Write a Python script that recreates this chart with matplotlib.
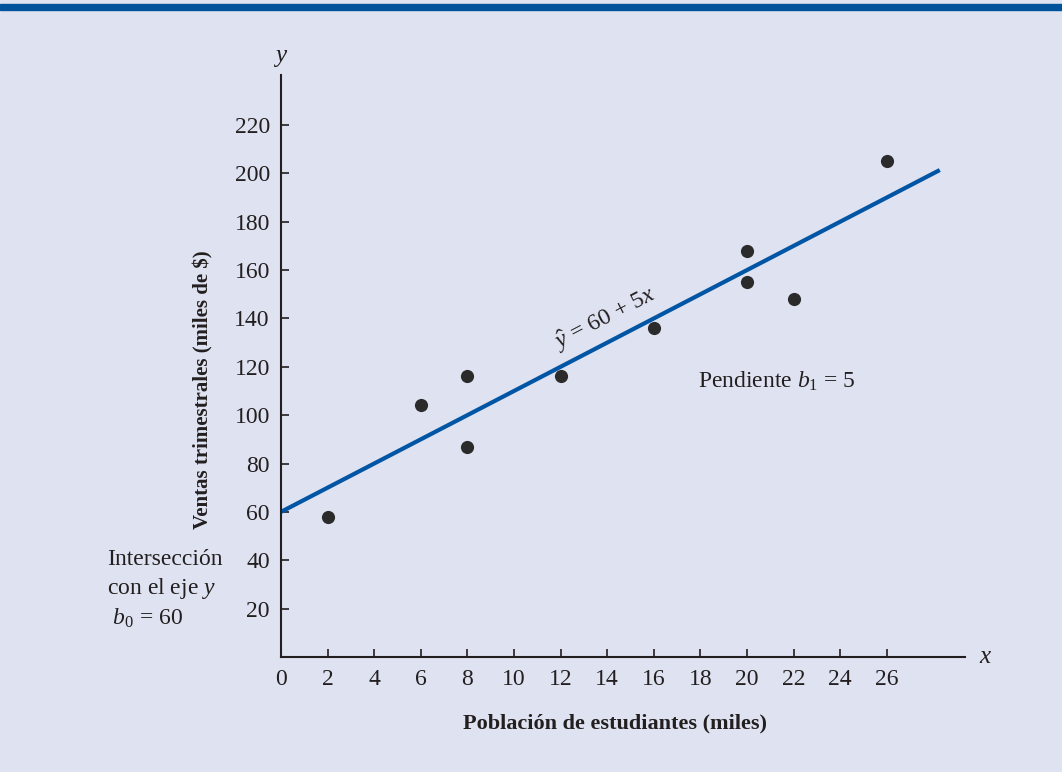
import numpy as np
import matplotlib
matplotlib.use("Agg")
import matplotlib.pyplot as plt
from matplotlib.patches import Rectangle

# datos
poblacion = [2, 6, 8, 8, 12, 16, 20, 20, 22, 26]
ventas = [58, 104, 87, 116, 116, 136, 168, 155, 148, 205]
b0 = 60
b1 = 5
x_ticks = list(range(0, 27, 2))
y_ticks = list(range(20, 221, 20))

plt.rcParams['font.family'] = ['Liberation Serif', 'DejaVu Serif']
plt.rcParams['mathtext.fontset'] = 'custom'
plt.rcParams['mathtext.rm'] = 'Liberation Serif'
plt.rcParams['mathtext.it'] = 'Liberation Serif:italic'

bg = '#dfe3f1'
ink = '#231f20'
azul = '#0055a4'

fig = plt.figure(figsize=(10.62, 7.72), dpi=100, facecolor=bg)
fig.patches.append(Rectangle((0, 0.987), 1, 0.008, transform=fig.transFigure,
                             color='#00529b', zorder=0))

ax = fig.add_axes([0.2646, 0.149, 0.644, 0.754])
ax.set_facecolor(bg)

xl = np.array([0, 28.27])
ax.plot(xl, b0 + b1 * xl, color=azul, lw=3, solid_capstyle='butt', zorder=2)
ax.scatter(poblacion, ventas, s=90, color='#2b2b2b', zorder=3, linewidths=0)

ax.set_xlim(0, 29.35)
ax.set_ylim(0, 240.7)
for s in ['top', 'right']:
    ax.spines[s].set_visible(False)
for s in ['left', 'bottom']:
    ax.spines[s].set_linewidth(1.5)
    ax.spines[s].set_color(ink)

ax.set_xticks(x_ticks)
ax.set_yticks(y_ticks)
ax.tick_params(direction='in', length=6, width=1.2, color=ink,
               labelsize=17, labelcolor=ink)
ax.tick_params(axis='x', pad=9)
ax.tick_params(axis='y', pad=8)

ax.set_xlabel('Población de estudiantes (miles)', fontsize=16,
              fontweight='bold', color=ink, va='center')
ax.set_ylabel('Ventas trimestrales (miles de $)', fontsize=15,
              fontweight='bold', color=ink, va='center')
ax.xaxis.set_label_coords(0.488, -0.115)
ax.yaxis.set_label_coords(-0.114, 0.459)

# etiquetas de los ejes
ax.text(0, 243, '$y$', fontsize=18, ha='center', va='bottom', color=ink)
ax.text(29.95, 0, '$x$', fontsize=18, ha='left', va='center', color=ink)

# ecuacion sobre la recta
ax.text(11.9, 127, r'$\hat{y}$ = 60 + 5$x$', fontsize=17, color=ink,
        rotation=27.4, rotation_mode='anchor', ha='left', va='baseline')

ax.text(17.9, 114, 'Pendiente $b_1$ = 5', fontsize=17, color=ink,
        ha='left', va='center')

ax.text(-7.46, 28, 'Intersección\ncon el eje $y$\n $b_0$ = 60', fontsize=17,
        color=ink, ha='left', va='center', linespacing=1.33)

fig.savefig('out.png', dpi=100, facecolor=bg)
